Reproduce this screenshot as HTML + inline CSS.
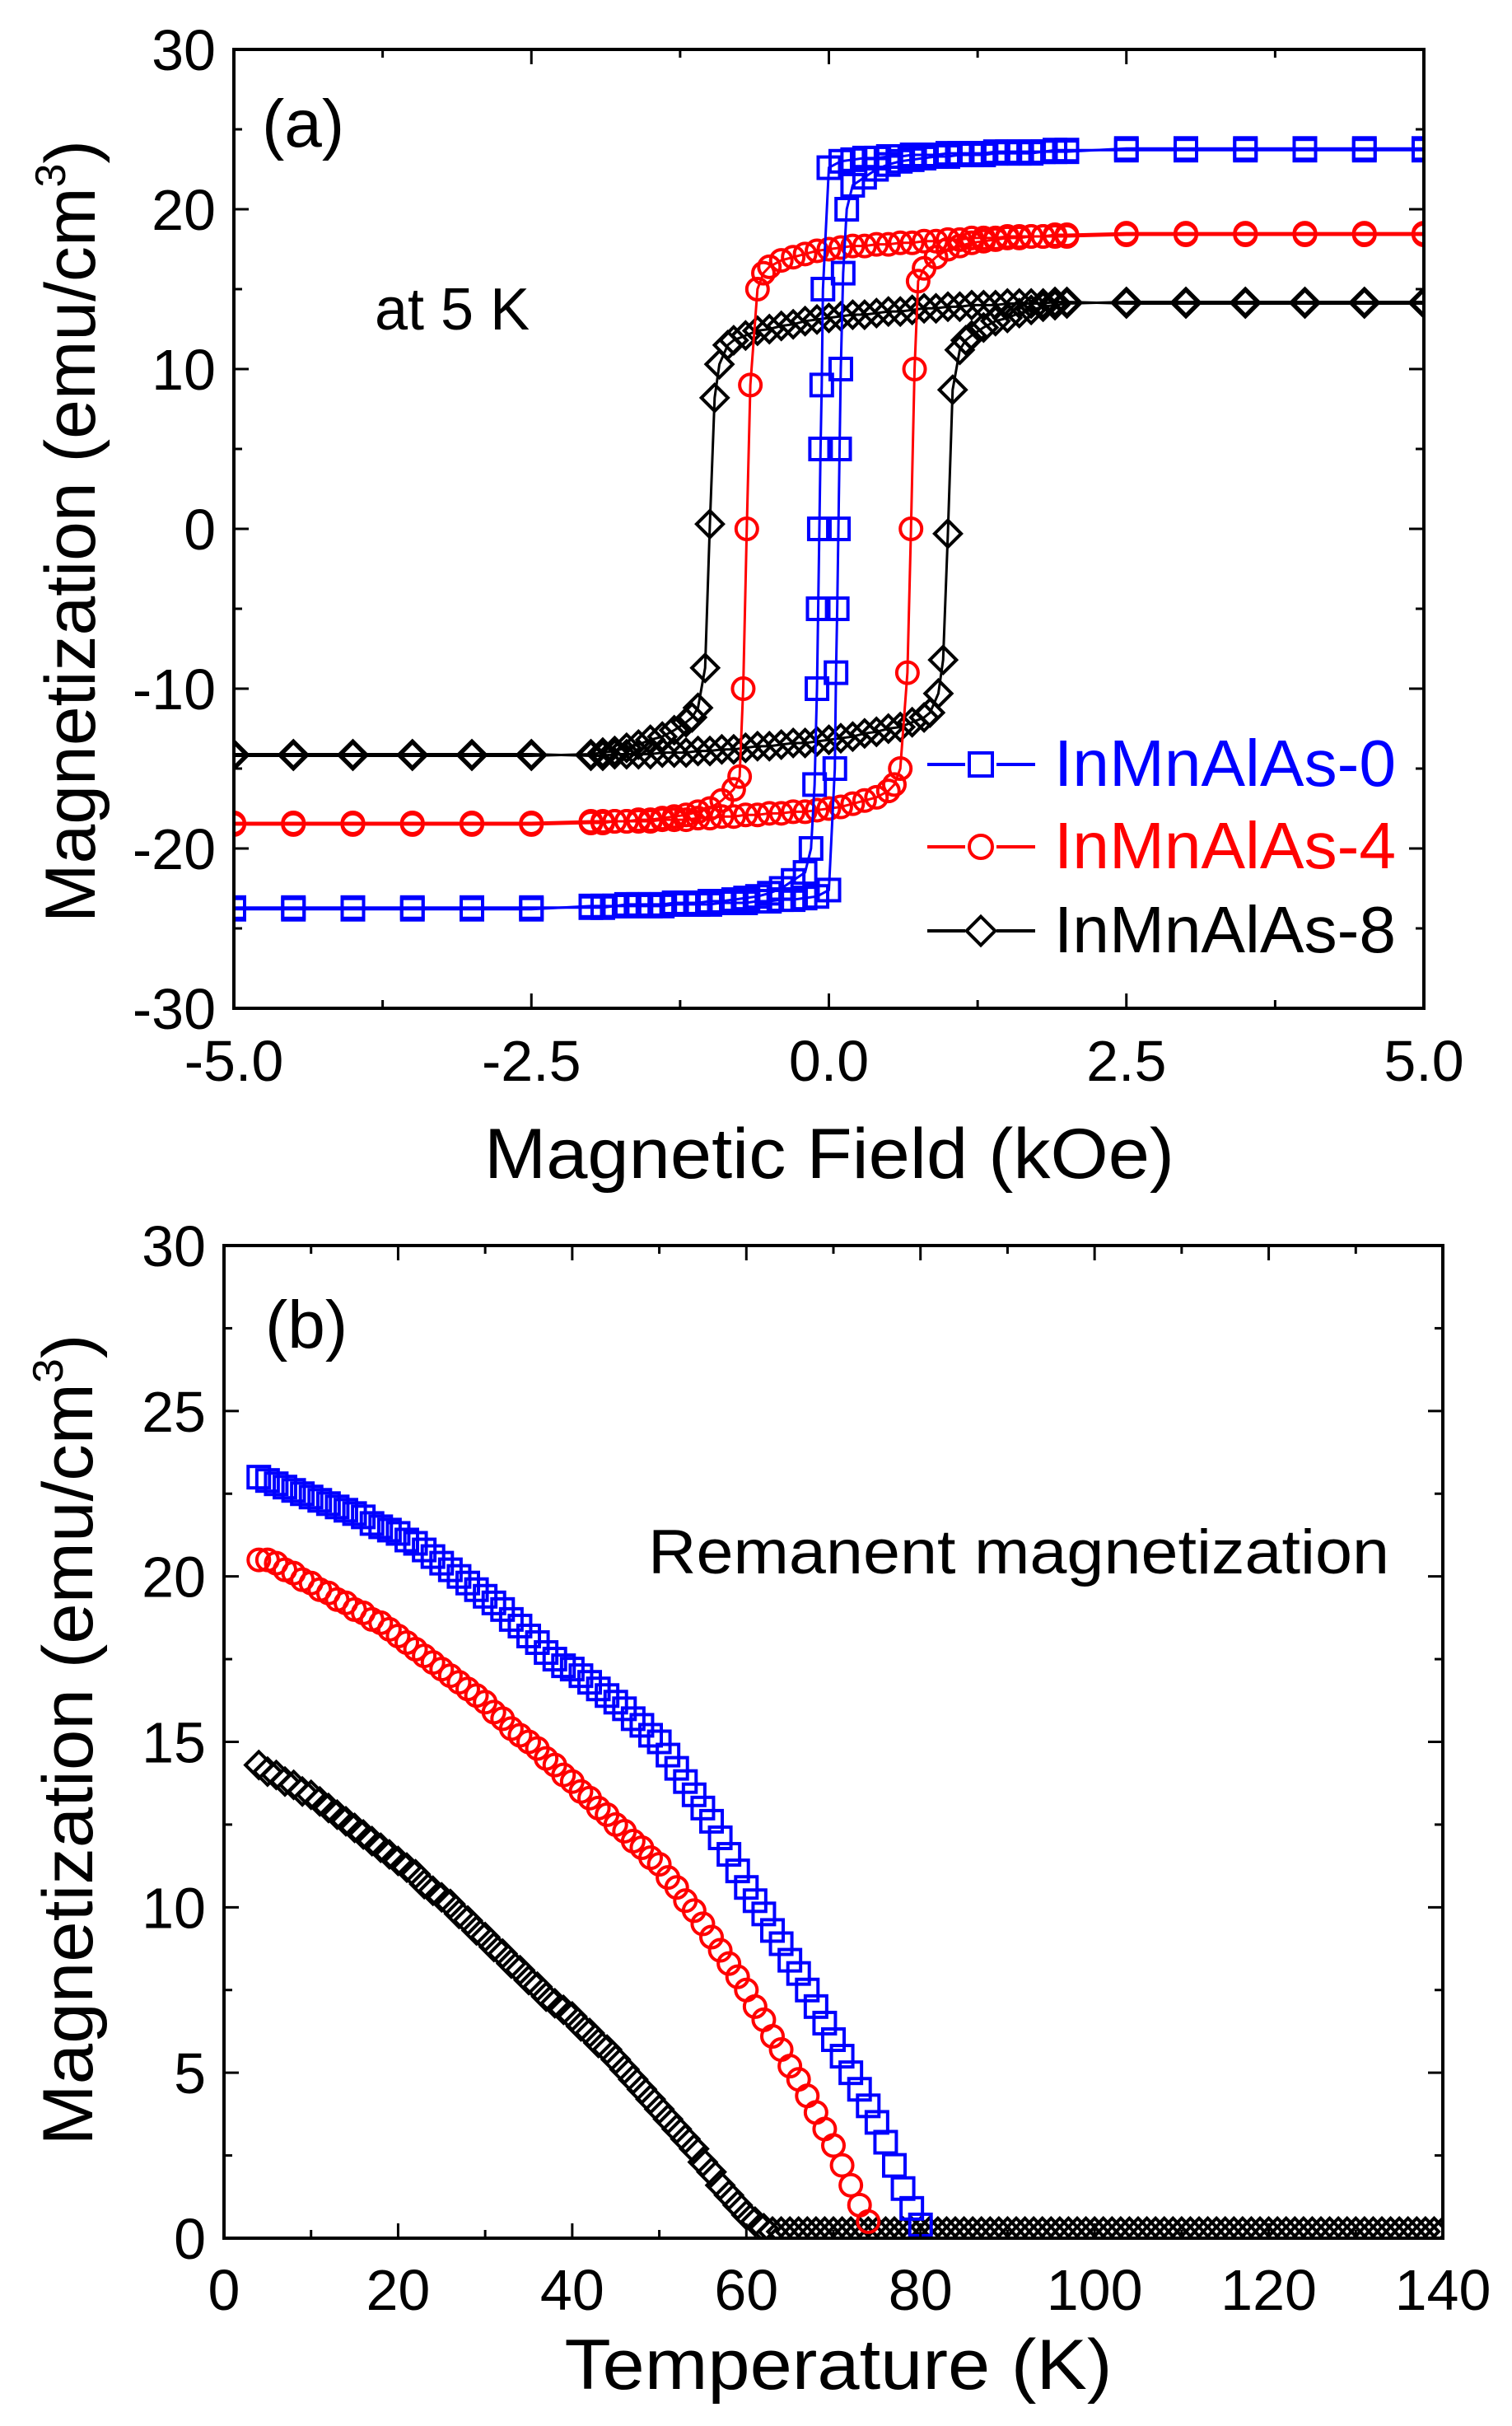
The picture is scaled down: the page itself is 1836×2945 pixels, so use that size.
<!DOCTYPE html>
<html><head><meta charset="utf-8"><style>
html,body{margin:0;padding:0;background:#fff;}
svg{display:block;font-family:"Liberation Sans",Arial,sans-serif;}
</style></head><body>
<svg id="fig" width="1836" height="2945" viewBox="0 0 1836 2945" xmlns="http://www.w3.org/2000/svg">
<rect width="1836" height="2945" fill="#fff"/>
<g id="pa"></g>
<g id="pb"></g>
</svg>
<script>
// ---------- Panel (a) data: upper (descending) branch; lower branch is its inversion ----------
const hBlue = [-5,-4.5,-4,-3.5,-3,-2.5,-2,-1.9,-1.8,-1.7,-1.6,-1.5,-1.4,-1.3,-1.2,-1.1,-1.0,-0.9,-0.8,-0.7,-0.6,-0.5,-0.4,-0.3,-0.2,-0.15,-0.12,-0.1,-0.09,-0.08,-0.07,-0.06,-0.05,0,0.1,0.2,0.3,0.4,0.5,0.6,0.7,0.8,0.9,1.0,1.1,1.2,1.3,1.4,1.5,1.6,1.7,1.8,1.9,2.0,2.5,3,3.5,4,4.5,5];
const mBlue = [-23.8,-23.8,-23.8,-23.8,-23.8,-23.8,-23.6,-23.6,-23.6,-23.5,-23.5,-23.5,-23.5,-23.4,-23.4,-23.4,-23.3,-23.3,-23.2,-23.1,-23.0,-22.8,-22.5,-22.0,-21.5,-20.0,-16.0,-10.0,-5.0,0.0,5.0,9.0,15.0,22.6,23.0,23.1,23.2,23.2,23.3,23.3,23.4,23.4,23.4,23.5,23.5,23.5,23.5,23.6,23.6,23.6,23.6,23.6,23.7,23.7,23.7,23.7,23.7,23.7,23.7,23.7];
const hRed = [-5,-4.5,-4,-3.5,-3,-2.5,-2,-1.9,-1.8,-1.7,-1.6,-1.5,-1.4,-1.3,-1.2,-1.1,-1.0,-0.9,-0.8,-0.75,-0.72,-0.69,-0.66,-0.6,-0.55,-0.5,-0.4,-0.3,-0.2,-0.1,0,0.1,0.2,0.3,0.4,0.5,0.6,0.7,0.8,0.9,1.0,1.1,1.2,1.3,1.4,1.5,1.6,1.7,1.8,1.9,2.0,2.5,3,3.5,4,4.5,5];
const mRed = [-18.5,-18.5,-18.5,-18.5,-18.5,-18.5,-18.4,-18.4,-18.3,-18.3,-18.2,-18.2,-18.1,-18.0,-17.9,-17.7,-17.5,-17.0,-16.3,-15.5,-10.0,0.0,9.0,15.0,16.0,16.4,16.8,17.0,17.2,17.4,17.5,17.6,17.7,17.7,17.8,17.8,17.9,17.9,18.0,18.0,18.1,18.1,18.2,18.2,18.2,18.3,18.3,18.3,18.3,18.3,18.3,18.4,18.4,18.4,18.4,18.4,18.4];
const hBlack = [-5,-4.5,-4,-3.5,-3,-2.5,-2,-1.9,-1.8,-1.7,-1.6,-1.5,-1.4,-1.3,-1.2,-1.15,-1.1,-1.04,-1.0,-0.96,-0.92,-0.85,-0.8,-0.7,-0.6,-0.5,-0.4,-0.3,-0.2,-0.1,0,0.1,0.2,0.3,0.4,0.5,0.6,0.7,0.8,0.9,1.0,1.1,1.2,1.3,1.4,1.5,1.6,1.7,1.8,1.9,2.0,2.5,3,3.5,4,4.5,5];
const mBlack = [-14.2,-14.2,-14.2,-14.2,-14.2,-14.2,-14.1,-14.0,-13.9,-13.7,-13.5,-13.2,-13.0,-12.6,-12.1,-11.8,-11.2,-8.7,0.3,8.2,10.3,11.5,11.8,12.1,12.4,12.5,12.7,12.8,13.0,13.1,13.2,13.3,13.4,13.4,13.5,13.6,13.6,13.7,13.8,13.8,13.9,13.9,14.0,14.0,14.0,14.1,14.1,14.1,14.1,14.2,14.2,14.1,14.1,14.1,14.1,14.1,14.1];
const aXTicks = [-5.0,-2.5,0.0,2.5,5.0];
const aXLabels = ["-5.0","-2.5","0.0","2.5","5.0"];
const aYTicks = [-30,-20,-10,0,10,20,30];
const aYLabels = ["-30","-20","-10","0","10","20","30"];

// ---------- Panel (b) data ----------
const tBlue = [4,5,6,7,8,9,10,11,12,13,14,15,16,17,18,19,20,21,22,23,24,25,26,27,28,29,30,31,32,33,34,35,36,37,38,39,40,41,42,43,44,45,46,47,48,49,50,51,52,53,54,55,56,57,58,59,60,61,62,63,64,65,66,67,68,69,70,71,72,73,74,75,76,77,78,79,80];
const mrBlue = [23.0,22.9,22.8,22.7,22.6,22.5,22.4,22.3,22.2,22.1,22.0,21.9,21.8,21.6,21.5,21.4,21.3,21.1,21.0,20.8,20.6,20.4,20.2,20.0,19.8,19.6,19.4,19.2,19.0,18.7,18.5,18.2,18.0,17.7,17.5,17.3,17.2,17.0,16.8,16.6,16.4,16.2,16.0,15.7,15.5,15.2,15.0,14.6,14.2,13.8,13.4,13.0,12.6,12.1,11.6,11.1,10.6,10.2,9.8,9.3,8.9,8.4,8.0,7.5,7.0,6.5,6.0,5.5,5.0,4.5,4.0,3.5,2.9,2.2,1.5,0.9,0.4];
const tRed = [4,5,6,7,8,9,10,11,12,13,14,15,16,17,18,19,20,21,22,23,24,25,26,27,28,29,30,31,32,33,34,35,36,37,38,39,40,41,42,43,44,45,46,47,48,49,50,51,52,53,54,55,56,57,58,59,60,61,62,63,64,65,66,67,68,69,70,71,72,73,74];
const mrRed = [20.5,20.5,20.4,20.2,20.1,19.9,19.8,19.6,19.5,19.3,19.2,19.0,18.9,18.7,18.6,18.4,18.2,18.0,17.8,17.6,17.4,17.2,17.0,16.8,16.6,16.4,16.2,15.9,15.7,15.4,15.2,15.0,14.8,14.5,14.3,14.0,13.8,13.5,13.3,13.0,12.8,12.5,12.3,12.0,11.8,11.5,11.3,10.9,10.6,10.2,9.9,9.5,9.1,8.7,8.3,7.9,7.5,7.0,6.6,6.1,5.7,5.2,4.8,4.3,3.8,3.3,2.8,2.2,1.6,1.0,0.5];
const tBlack = [4,5,6,7,8,9,10,11,12,13,14,15,16,17,18,19,20,21,22,23,24,25,26,27,28,29,30,31,32,33,34,35,36,37,38,39,40,41,42,43,44,45,46,47,48,49,50,51,52,53,54,55,56,57,58,59,60,61,62];
const mrBlack = [14.3,14.1,14.0,13.8,13.7,13.5,13.4,13.2,13.0,12.8,12.6,12.4,12.2,12.0,11.8,11.6,11.4,11.2,11.0,10.7,10.5,10.3,10.1,9.8,9.6,9.3,9.1,8.8,8.6,8.3,8.1,7.8,7.6,7.3,7.1,6.9,6.7,6.4,6.2,5.9,5.7,5.4,5.1,4.8,4.5,4.2,3.9,3.6,3.3,3.0,2.7,2.3,2.0,1.6,1.3,1.0,0.7,0.5,0.3];
const tTail = [63,64,65,66,67,68,69,70,71,72,73,74,75,76,77,78,79,80,81,82,83,84,85,86,87,88,89,90,91,92,93,94,95,96,97,98,99,100,101,102,103,104,105,106,107,108,109,110,111,112,113,114,115,116,117,118,119,120,121,122,123,124,125,126,127,128,129,130,131,132,133,134,135,136,137,138,139,140];
const mrTail = [0.2,0.2,0.2,0.2,0.2,0.2,0.2,0.2,0.2,0.2,0.2,0.2,0.2,0.2,0.2,0.2,0.2,0.2,0.2,0.2,0.2,0.2,0.2,0.2,0.2,0.2,0.2,0.2,0.2,0.2,0.2,0.2,0.2,0.2,0.2,0.2,0.2,0.2,0.2,0.2,0.2,0.2,0.2,0.2,0.2,0.2,0.2,0.2,0.2,0.2,0.2,0.2,0.2,0.2,0.2,0.2,0.2,0.2,0.2,0.2,0.2,0.2,0.2,0.2,0.2,0.2,0.2,0.2,0.2,0.2,0.2,0.2,0.2,0.2,0.2,0.2,0.2,0.2];
const bXTicks = [0,20,40,60,80,100,120,140];
const bXLabels = ["0","20","40","60","80","100","120","140"];
const bYTicks = [0,5,10,15,20,25,30];
const bYLabels = ["0","5","10","15","20","25","30"];

const NS = "http://www.w3.org/2000/svg";
function mk(parent, tag, attrs, text){
  const e = document.createElementNS(NS, tag);
  for (const k in attrs) e.setAttribute(k, attrs[k]);
  if (text !== undefined) e.textContent = text;
  parent.appendChild(e);
  return e;
}
function scale(d0,d1,r0,r1){ return v => r0 + (v-d0)/(d1-d0)*(r1-r0); }

function marker(g, shape, cx, cy, s, color){
  let e;
  if (shape==='square'){
    e = mk(g,'rect',{x:cx-s/2,y:cy-s/2,width:s,height:s,fill:'none',stroke:color,'stroke-width':4});
  } else if (shape==='circle'){
    e = mk(g,'circle',{cx:cx,cy:cy,r:s/2,fill:'none',stroke:color,'stroke-width':4});
  } else {
    const r = s*0.62;
    e = mk(g,'polygon',{points:`${cx},${cy-r} ${cx+r},${cy} ${cx},${cy+r} ${cx-r},${cy}`,fill:'none',stroke:color,'stroke-width':4});
  }
  
  
  return e;
}

function frame(g, L, R, T, B, xs, ys, xMaj, xMin, yMaj, yMin){
  const fr = mk(g,'rect',{x:L,y:T,width:R-L,height:B-T,fill:'none',stroke:'#000','stroke-width':4});
  
  
  const tg = mk(g,'g',{stroke:'#000','stroke-width':3});
  
  
  xMaj.forEach(v=>{const x=xs(v); mk(tg,'line',{x1:x,y1:B,x2:x,y2:B-18}); mk(tg,'line',{x1:x,y1:T,x2:x,y2:T+18});});
  xMin.forEach(v=>{const x=xs(v); mk(tg,'line',{x1:x,y1:B,x2:x,y2:B-10}); mk(tg,'line',{x1:x,y1:T,x2:x,y2:T+10});});
  yMaj.forEach(v=>{const y=ys(v); mk(tg,'line',{x1:L,y1:y,x2:L+18,y2:y}); mk(tg,'line',{x1:R,y1:y,x2:R-18,y2:y});});
  yMin.forEach(v=>{const y=ys(v); mk(tg,'line',{x1:L,y1:y,x2:L+10,y2:y}); mk(tg,'line',{x1:R,y1:y,x2:R-10,y2:y});});
}

// ================= Panel A =================
(function(){
  const g = document.getElementById('pa');
  const L=284,R=1729,T=60,B=1224;
  const xs = scale(-5,5,L,R), ys = scale(-30,30,B,T);
  const clip = mk(g,'clipPath',{id:'ca'}); mk(clip,'rect',{x:L,y:T,width:R-L,height:B-T});
  const series = [
    {h:hBlack,m:mBlack,c:'#000',s:'diamond',n:'inmnalas-8'},
    {h:hRed,m:mRed,c:'#ff0000',s:'circle',n:'inmnalas-4'},
    {h:hBlue,m:mBlue,c:'#0000ff',s:'square',n:'inmnalas-0'}
  ];
  series.forEach(sr=>{
    const sg = mk(g,'g',{'clip-path':'url(#ca)'});
    
    
    const up = sr.h.map((h,i)=>[xs(h),ys(sr.m[i])]);
    const lo = sr.h.map((h,i)=>[xs(-h),ys(-sr.m[i])]);
    [up,lo].forEach(pts=>{
      mk(sg,'polyline',{points:pts.map(p=>p.join(',')).join(' '),fill:'none',stroke:sr.c,'stroke-width':3});
    });
    [up,lo].forEach(pts=>pts.forEach(p=>marker(sg,sr.s,p[0],p[1],26,sr.c)));
  });
  const minX=[], minY=[];
  for(let i=0;i<aXTicks.length-1;i++) minX.push((aXTicks[i]+aXTicks[i+1])/2);
  for(let i=0;i<aYTicks.length-1;i++) minY.push((aYTicks[i]+aYTicks[i+1])/2);
  frame(g,L,R,T,B,xs,ys,aXTicks,minX,aYTicks,minY);
  aXTicks.forEach((v,i)=>{const t=mk(g,'text',{x:xs(v),y:1312,'font-size':70,'text-anchor':'middle'},aXLabels[i]);
     });
  aYTicks.forEach((v,i)=>{const t=mk(g,'text',{x:262,y:ys(v)+25,'font-size':70,'text-anchor':'end'},aYLabels[i]);
     });
  const xt = mk(g,'text',{x:1007,y:1430,'font-size':86,'text-anchor':'middle',textLength:838,lengthAdjust:'spacingAndGlyphs'},'Magnetic Field (kOe)');
   
  const yt = mk(g,'text',{x:0,y:0,'font-size':86,'text-anchor':'middle',textLength:950,lengthAdjust:'spacingAndGlyphs',transform:'translate(115,645) rotate(-90)'});
   
  mk(yt,'tspan',{},'Magnetization (emu/cm');
  mk(yt,'tspan',{dy:-36,'font-size':52},'3');
  mk(yt,'tspan',{dy:36},')');
  const la = mk(g,'text',{x:318,y:178,'font-size':82},'(a)');
   
  const at = mk(g,'text',{x:455,y:400,'font-size':72},'at 5 K');
   
  // legend
  const leg = [
    {c:'#0000ff',s:'square',t:'InMnAlAs-0',y:928},
    {c:'#ff0000',s:'circle',t:'InMnAlAs-4',y:1028},
    {c:'#000',s:'diamond',t:'InMnAlAs-8',y:1130}
  ];
  const lg = mk(g,'g',{});
   
  leg.forEach(e=>{
    const eg = mk(lg,'g',{});
     
    mk(eg,'line',{x1:1126,y1:e.y,x2:1257,y2:e.y,stroke:e.c,'stroke-width':4});
    mk(eg,'rect',{x:1172,y:e.y-18,width:38,height:36,fill:'#fff'});
    marker(eg,e.s,1191,e.y,28,e.c);
    mk(eg,'text',{x:1280,y:e.y+26,'font-size':80,fill:e.c,textLength:415,lengthAdjust:'spacingAndGlyphs'},e.t);
  });
})();

// ================= Panel B =================
(function(){
  const g = document.getElementById('pb');
  const L=272,R=1752,T=1512,B=2717;
  const xs = scale(0,140,L,R), ys = scale(0,30,B,T);
  const clip = mk(g,'clipPath',{id:'cb'}); mk(clip,'rect',{x:L,y:T,width:R-L,height:B-T});
  const series = [
    {t:tTail,m:mrTail,c:'#000',s:'diamond',n:'baseline'},
    {t:tBlack,m:mrBlack,c:'#000',s:'diamond',n:'inmnalas-8'},
    {t:tRed,m:mrRed,c:'#ff0000',s:'circle',n:'inmnalas-4'},
    {t:tBlue,m:mrBlue,c:'#0000ff',s:'square',n:'inmnalas-0'}
  ];
  series.forEach(sr=>{
    const sg = mk(g,'g',{'clip-path':'url(#cb)'});
    
    
    sr.t.forEach((t,i)=>marker(sg,sr.s,xs(t),ys(sr.m[i]),26,sr.c));
  });
  const minX=[], minY=[];
  for(let i=0;i<bXTicks.length-1;i++) minX.push((bXTicks[i]+bXTicks[i+1])/2);
  for(let i=0;i<bYTicks.length-1;i++) minY.push((bYTicks[i]+bYTicks[i+1])/2);
  frame(g,L,R,T,B,xs,ys,bXTicks,minX,bYTicks,minY);
  bXTicks.forEach((v,i)=>{const t=mk(g,'text',{x:xs(v),y:2804,'font-size':70,'text-anchor':'middle'},bXLabels[i]);
     });
  bYTicks.forEach((v,i)=>{const t=mk(g,'text',{x:250,y:ys(v)+25,'font-size':70,'text-anchor':'end'},bYLabels[i]);
     });
  const xt = mk(g,'text',{x:1018,y:2900,'font-size':86,'text-anchor':'middle',textLength:665,lengthAdjust:'spacingAndGlyphs'},'Temperature (K)');
   
  const yt = mk(g,'text',{x:0,y:0,'font-size':86,'text-anchor':'middle',textLength:985,lengthAdjust:'spacingAndGlyphs',transform:'translate(112,2112) rotate(-90)'});
   
  mk(yt,'tspan',{},'Magnetization (emu/cm');
  mk(yt,'tspan',{dy:-36,'font-size':52},'3');
  mk(yt,'tspan',{dy:36},')');
  const lb = mk(g,'text',{x:322,y:1636,'font-size':82},'(b)');
   
  const rm = mk(g,'text',{x:787,y:1910,'font-size':76,textLength:900,lengthAdjust:'spacingAndGlyphs'},'Remanent magnetization');
   
})();
</script>
</body></html>
